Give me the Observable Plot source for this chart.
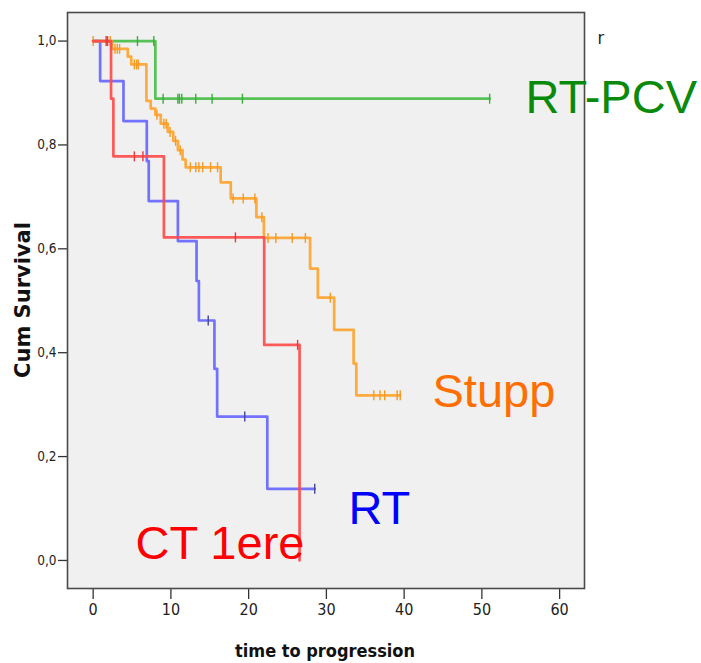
<!DOCTYPE html>
<html><head><meta charset="utf-8">
<script src="https://cdn.jsdelivr.net/npm/d3@7"></script>
<script src="https://cdn.jsdelivr.net/npm/@observablehq/plot@0.6"></script>
<style>
body{margin:0;background:#fff;}
#chart{position:relative;width:701px;height:663px;}
</style>
</head><body><div id="chart"></div>
<script>
// ---- data (time in months, cumulative survival) ----
const groups = ["RT-PCV", "Stupp", "RT", "CT 1ere"];

const rtpcvTimes  = [0, 8.0, 51.0];
const rtpcvSurv   = [1, 0.889, 0.889];
const rtpcvCensor = [5.7, 7.8, 9.0, 10.9, 11.1, 11.4, 13.2, 15.3, 19.2, 51.0];

const stuppTimes  = [0, 2.4, 4.45, 4.9, 6.85, 7.4, 8.0, 8.7, 9.6, 10.3, 10.9, 11.5, 11.9, 16.4, 17.7, 21.0, 21.96, 27.9, 28.9, 31.0, 33.5, 33.85, 39.5];
const stuppSurv   = [1, 0.985, 0.970, 0.955, 0.885, 0.870, 0.858, 0.841, 0.825, 0.808, 0.790, 0.772, 0.757, 0.728, 0.697, 0.661, 0.621, 0.562, 0.506, 0.444, 0.379, 0.318, 0.318];
const stuppCensor = [0, 2.2, 2.8, 3.1, 3.4, 5.3, 5.6, 5.8, 8.2, 9.1, 9.4, 9.9, 10.6, 11.2, 12.5, 13.2, 13.6, 14.1, 15.1, 16.0, 18.0, 19.3, 20.8, 21.7, 22.5, 23.5, 25.6, 27.3, 30.5, 36.1, 36.9, 37.5, 39.1, 39.5];

const rtTimes  = [0, 0.9, 3.9, 6.9, 7.15, 10.9, 13.3, 13.6, 15.6, 15.95, 22.4, 28.5];
const rtSurv   = [1, 0.923, 0.846, 0.769, 0.692, 0.615, 0.538, 0.462, 0.369, 0.277, 0.138, 0.138];
const rtCensor = [14.8, 19.5, 28.5];

const ctTimes  = [0, 2.3, 2.6, 9.1, 22.0, 26.55];
const ctSurv   = [1, 0.889, 0.778, 0.622, 0.415, 0];
const ctCensor = [1.67, 1.85, 5.3, 6.4, 18.3, 26.3];

const xTicks = [0, 10, 20, 30, 40, 50, 60];
const yTicks = [0, 0.2, 0.4, 0.6, 0.8, 1.0];
const xTitle = "time to progression";
const yTitle = "Cum Survival";

// ---- build tables ----
const series = {
  "RT-PCV": {times: rtpcvTimes, surv: rtpcvSurv, censor: rtpcvCensor},
  "Stupp":  {times: stuppTimes, surv: stuppSurv, censor: stuppCensor},
  "RT":     {times: rtTimes,    surv: rtSurv,    censor: rtCensor},
  "CT 1ere":{times: ctTimes,    surv: ctSurv,    censor: ctCensor}
};
const lineColor  = {"RT-PCV": "#46bd46", "Stupp": "#ffa22a", "RT": "#6464ff", "CT 1ere": "#ff4848"};
const tickColor  = {"RT-PCV": "#3aae3a", "Stupp": "#f59a22", "RT": "#44449a", "CT 1ere": "#e83a3a"};
const labelColor = {"RT-PCV": "#0a8a0a", "Stupp": "#ff6f00", "RT": "#0000ff", "CT 1ere": "#ff0000"};

function stepValue(g, t) {
  const s = series[g];
  let v = s.surv[0];
  for (let i = 0; i < s.times.length; i++) if (s.times[i] <= t) v = s.surv[i];
  return v;
}
const stepRows = groups.map(g => series[g].times.map((t, i) => ({group: g, t, s: series[g].surv[i]})));
const censorRows = groups.map(g => series[g].censor.map(t => ({group: g, t, s: stepValue(g, t)})));

const vbar = {draw(ctx, size) { const r = Math.sqrt(size / Math.PI); ctx.moveTo(0, -r); ctx.lineTo(0, r); }};

const drawOrder = [0, 2, 1, 3]; // RT-PCV, RT, Stupp, CT 1ere
const curveMarks = [];
for (const i of drawOrder) {
  const g = groups[i];
  curveMarks.push(Plot.line(stepRows[i], {x: "t", y: "s", curve: "step-after", stroke: lineColor[g], strokeWidth: 2.7, strokeOpacity: 0.9}));
  curveMarks.push(Plot.dot(censorRows[i], {x: "t", y: "s", symbol: vbar, r: 5, stroke: tickColor[g], strokeWidth: 1.4}));
}

const labelPos = {
  "RT-PCV": [458, 100],
  "Stupp":  [365, 394],
  "RT":     [281, 511],
  "CT 1ere":[68, 546]
};
const labelMarks = groups.map(g => Plot.text([g], {
  frameAnchor: "top-left", dx: labelPos[g][0], dy: labelPos[g][1],
  textAnchor: "start", lineAnchor: "bottom", fontSize: 47,
  fontFamily: "Liberation Sans, Arial, sans-serif", fill: labelColor[g]
}));

const chart = Plot.plot({
  width: 701, height: 663,
  marginLeft: 67, marginRight: 117, marginTop: 12, marginBottom: 75,
  style: {background: "#ffffff", color: "#333", fontFamily: "Liberation Sans Narrow, DejaVu Sans Condensed, sans-serif"},
  x: {domain: [-3.3, 63.2]},
  y: {domain: [-0.054, 1.055]},
  marks: [
    Plot.frame({fill: "#f0f0f0", stroke: "none"}),
    Plot.axisX({ticks: xTicks, tickSize: 11, tickPadding: 4, label: null, fontSize: 16, stroke: "#333", strokeWidth: 1.3, fill: "#222"}),
    Plot.axisY({ticks: yTicks, tickSize: 9, tickPadding: 2, label: null, fontSize: 13.5, stroke: "#333", strokeWidth: 1.3, fill: "#222",
      tickFormat: d => d.toFixed(1).replace(".", ",")}),
    ...curveMarks,
    Plot.frame({stroke: "#4a4a4a", strokeWidth: 1.6}),
    ...labelMarks,
    Plot.text(["r"], {frameAnchor: "top-left", dx: 530, dy: 31, textAnchor: "start", lineAnchor: "bottom", fontSize: 18, fill: "#222"})
  ]
});

const svg = d3.select(chart);
svg.append("text")
  .attr("x", 325).attr("y", 657)
  .attr("text-anchor", "middle")
  .attr("font-family", "DejaVu Sans Condensed, DejaVu Sans, sans-serif")
  .attr("font-stretch", "condensed")
  .attr("font-weight", "bold").attr("font-size", 18).attr("fill", "#111")
  .text(xTitle);
svg.append("text")
  .attr("transform", "translate(30,300) rotate(-90)")
  .attr("text-anchor", "middle")
  .attr("font-family", "DejaVu Sans, sans-serif")
  .attr("font-weight", "bold").attr("font-size", 21).attr("fill", "#111")
  .text(yTitle);

document.getElementById("chart").appendChild(chart);
</script>
</body></html>
